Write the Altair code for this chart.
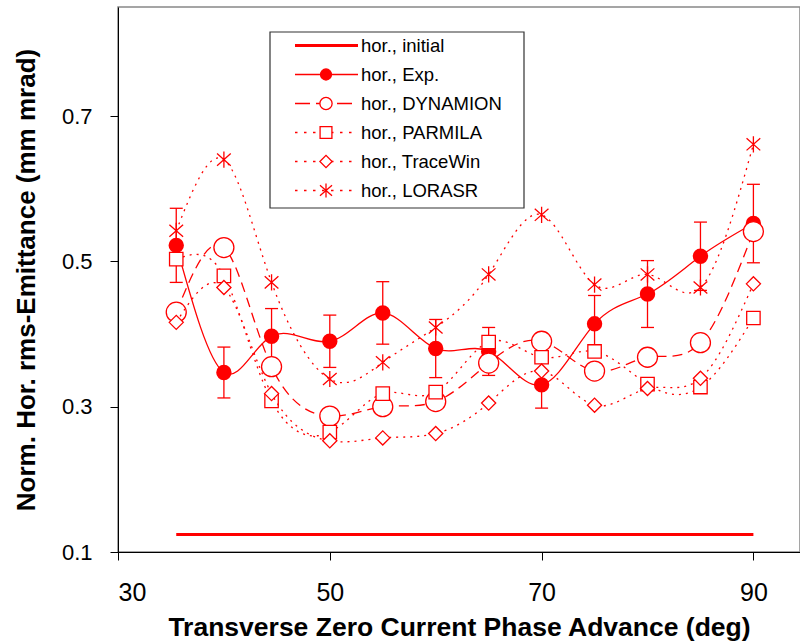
import altair as alt
import pandas as pd

# ---------------- data ----------------
phase = [35.5, 40, 44.5, 50, 55, 60, 65, 70, 75, 80, 85, 90]
exp_y = [0.522, 0.347, 0.397, 0.390, 0.429, 0.380, 0.376, 0.330, 0.414, 0.455, 0.507, 0.552]
exp_err = [0.051, 0.035, 0.038, 0.036, 0.043, 0.040, 0.033, 0.032, 0.039, 0.046, 0.047, 0.054]
dynamion = [0.430, 0.519, 0.355, 0.287, 0.300, 0.307, 0.360, 0.390, 0.349, 0.368, 0.388, 0.541]
parmila = [0.503, 0.480, 0.308, 0.265, 0.318, 0.320, 0.389, 0.368, 0.376, 0.331, 0.327, 0.422]
tracewin = [0.416, 0.464, 0.318, 0.253, 0.257, 0.263, 0.305, 0.349, 0.302, 0.325, 0.339, 0.469]
lorasr = [0.542, 0.640, 0.471, 0.338, 0.361, 0.409, 0.482, 0.564, 0.468, 0.482, 0.464, 0.661]
initial_x = [35.5, 90]
initial_y = [0.124, 0.124]

labels = ["hor., initial", "hor., Exp.", "hor., DYNAMION", "hor., PARMILA",
          "hor., TraceWin", "hor., LORASR"]
x_ticks = [30, 50, 70, 90]
y_ticks = [0.1, 0.3, 0.5, 0.7]

# ---------------- style ----------------
RED = "#ff0000"
FONT = "Liberation Sans"
ASTER = "M0,-1L0,1M-0.85,-0.75L0.85,0.75M-0.85,0.75L0.85,-0.75"
LW = 1.3

x_enc = alt.X("phase:Q",
              scale=alt.Scale(domain=[30, 94.4], nice=False, zero=False),
              axis=alt.Axis(values=x_ticks, format="d", grid=False,
                            title="Transverse Zero Current Phase Advance (deg)",
                            labelFontSize=25, titleFontSize=26.5, titleFontWeight="bold",
                            labelFont=FONT, titleFont=FONT, labelColor="black",
                            titleColor="black", tickSize=8, tickColor="black",
                            domainColor="black", labelPadding=20, titlePadding=9))
y_enc = alt.Y("value:Q",
              scale=alt.Scale(domain=[0.1, 0.85], nice=False, zero=False),
              axis=alt.Axis(values=y_ticks, format=".1f", grid=False,
                            title="Norm. Hor. rms-Emittance (mm mrad)",
                            labelFontSize=22, titleFontSize=26, titleFontWeight="bold",
                            labelFont=FONT, titleFont=FONT, labelColor="black",
                            titleColor="black", tickSize=8, tickColor="black",
                            domainColor="black", labelPadding=18, titlePadding=22))

layers = []

# initial
df_init = pd.DataFrame({"phase": initial_x, "value": initial_y})
layers.append(alt.Chart(df_init).mark_line(color=RED, strokeWidth=3).encode(x=x_enc, y=y_enc))

# experiment
df_exp = pd.DataFrame({"phase": phase, "value": exp_y,
                       "lo": [v - e for v, e in zip(exp_y, exp_err)],
                       "hi": [v + e for v, e in zip(exp_y, exp_err)]})
layers.append(alt.Chart(df_exp).mark_line(color=RED, strokeWidth=LW, interpolate="natural")
              .encode(x=x_enc, y=y_enc))
layers.append(alt.Chart(df_exp).mark_rule(color=RED, strokeWidth=LW)
              .encode(x=x_enc, y=alt.Y("lo:Q"), y2="hi:Q"))
for col in ["lo", "hi"]:
    layers.append(alt.Chart(df_exp).mark_tick(orient="horizontal", color=RED, size=13,
                                              thickness=LW, opacity=1)
                  .encode(x=x_enc, y=alt.Y(f"{col}:Q")))
layers.append(alt.Chart(df_exp).mark_point(shape="circle", size=180, filled=True,
                                           fill=RED, stroke=RED, opacity=1)
              .encode(x=x_enc, y=y_enc))

series = [
    (dynamion, [10, 6], "circle", 400),
    (parmila, [2, 5], "square", 180),
    (tracewin, [2, 5], "diamond", 200),
    (lorasr, [2, 5], ASTER, 260),
]
for vals, dash, shape, size in series:
    df = pd.DataFrame({"phase": phase, "value": vals})
    layers.append(alt.Chart(df).mark_line(color=RED, strokeWidth=LW, strokeDash=dash,
                                          interpolate="natural")
                  .encode(x=x_enc, y=y_enc))
    layers.append(alt.Chart(df).mark_point(shape=shape, size=size, filled=True, fill="white",
                                           stroke=RED, strokeWidth=LW, opacity=1)
                  .encode(x=x_enc, y=y_enc))

# ---------------- legend ----------------
one = pd.DataFrame({"k": [0]})
layers.append(alt.Chart(one).mark_rect(fill="white", stroke="#333333", strokeWidth=1.2)
              .encode(x=alt.value(152), x2=alt.value(406), y=alt.value(25), y2=alt.value(201)))

leg_styles = [
    (None, None, 0, 3),
    ([1, 0], "circle", 120, LW),
    ([15, 6], "circle", 150, LW),
    ([2.5, 6.5], "square", 140, LW),
    ([2.5, 6.5], "diamond", 150, LW),
    ([2.5, 6.5], ASTER, 200, LW),
]
for i, (lab, (dash, shape, size, lw)) in enumerate(zip(labels, leg_styles)):
    ry = 38.5 + 29 * i
    dfl = pd.DataFrame({"label": [lab]})
    rule_kw = dict(color=RED, strokeWidth=lw)
    if dash is not None:
        rule_kw["strokeDash"] = dash
    layers.append(alt.Chart(dfl).mark_rule(**rule_kw)
                  .encode(x=alt.value(177), x2=alt.value(240), y=alt.value(ry)))
    if shape is not None:
        if i == 1:
            pk = dict(fill=RED)
        else:
            pk = dict(fill="white")
        layers.append(alt.Chart(dfl).mark_point(shape=shape, size=size, filled=True,
                                                stroke=RED, strokeWidth=LW, opacity=1, **pk)
                      .encode(x=alt.value(208), y=alt.value(ry)))
    layers.append(alt.Chart(dfl).mark_text(align="left", baseline="middle", fontSize=18.5,
                                           font=FONT, color="black")
                  .encode(x=alt.value(243), y=alt.value(ry), text="label:N"))

chart = (alt.layer(*layers)
         .properties(width=682, height=545,
                     autosize=alt.AutoSizeParams(type="none"),
                     padding={"left": 118, "top": 7, "right": 0, "bottom": 92},
                     background="white")
         .configure_view(stroke="#888888", strokeWidth=1.5))

chart.save("out.html", embed_options={"renderer": "svg", "actions": False})
